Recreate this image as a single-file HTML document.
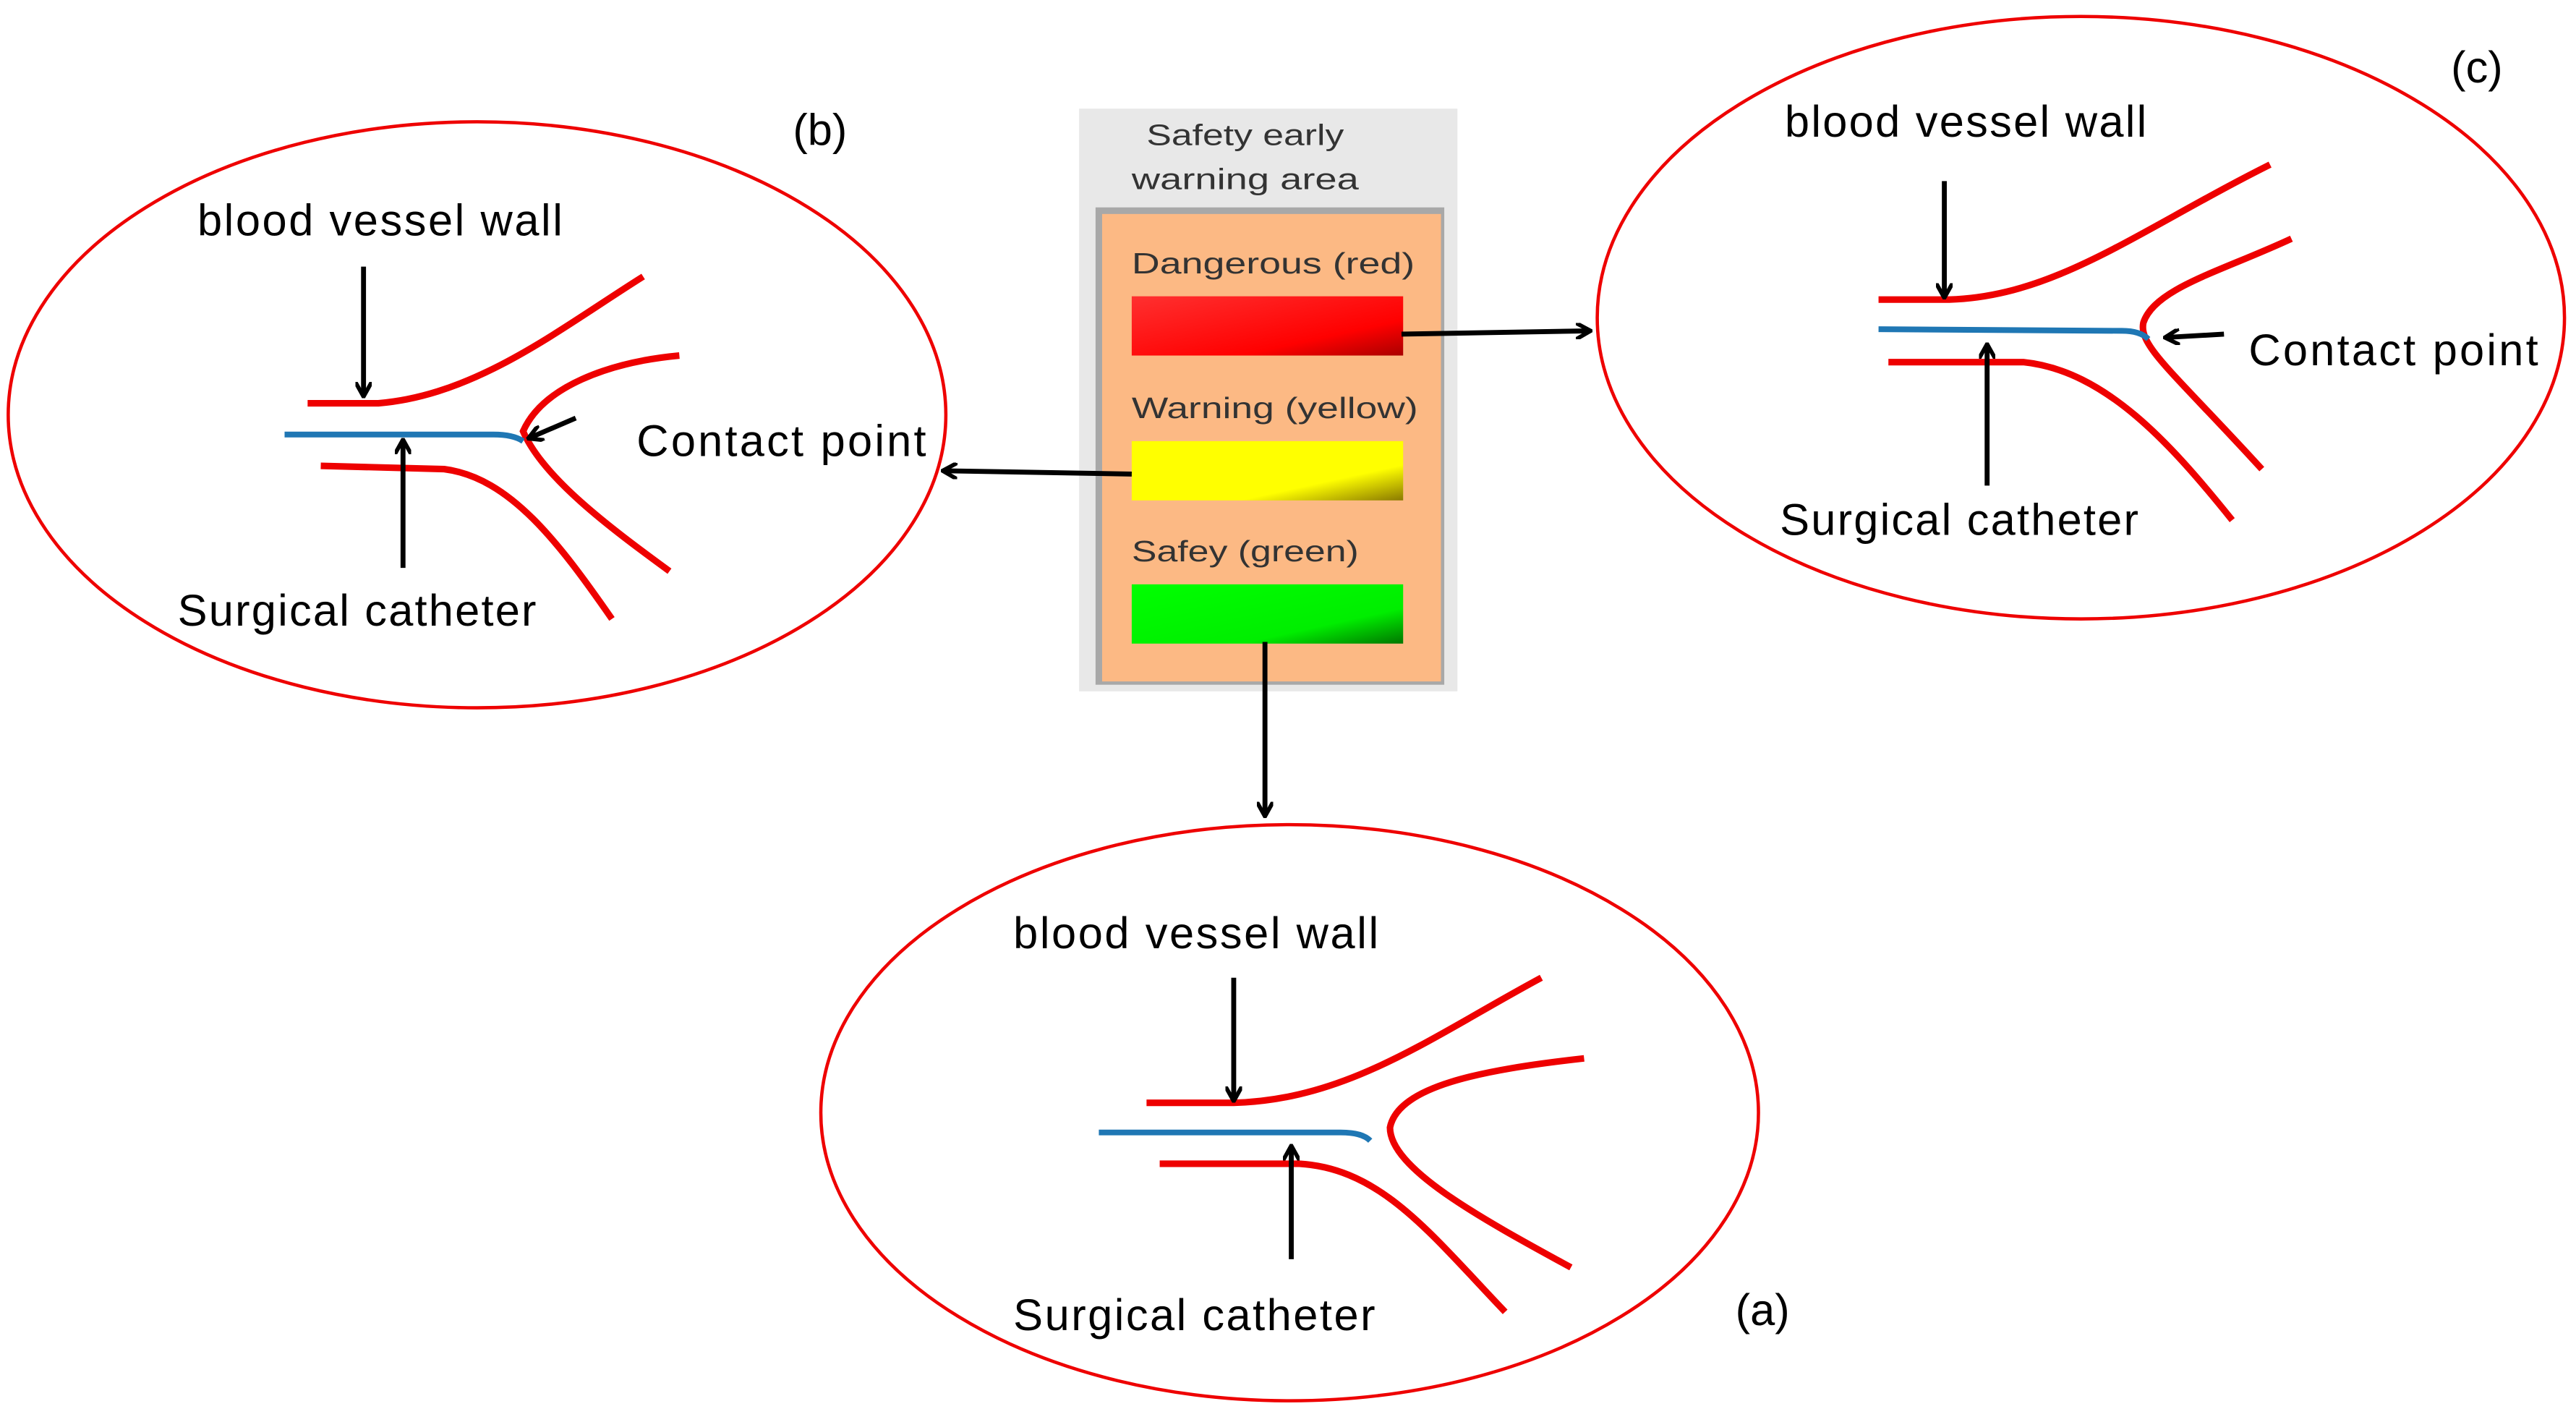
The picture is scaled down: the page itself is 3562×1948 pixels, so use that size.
<!DOCTYPE html>
<html><head><meta charset="utf-8"><style>html,body{margin:0;padding:0;background:#fff}svg{display:block}</style></head>
<body>
<svg width="3562" height="1948" viewBox="0 0 1566 856" preserveAspectRatio="none" xmlns="http://www.w3.org/2000/svg" font-family="Liberation Sans, sans-serif">
<defs>
<marker id="ah" markerWidth="10" markerHeight="10" refX="8" refY="5" orient="auto" markerUnits="userSpaceOnUse"><path d="M0,0 L9,5 L0,10" fill="none" stroke="#000" stroke-width="2.5"/></marker>
<linearGradient id="gr" x1="0" y1="0" x2="1" y2="1"><stop offset="0" stop-color="#ff3030"/><stop offset="0.7" stop-color="#f00"/><stop offset="1" stop-color="#a00"/></linearGradient>
<linearGradient id="gy" x1="0" y1="0" x2="1" y2="1"><stop offset="0" stop-color="#ff0"/><stop offset="0.7" stop-color="#ff0"/><stop offset="1" stop-color="#8a7a00"/></linearGradient>
<linearGradient id="gg" x1="0" y1="0" x2="1" y2="1"><stop offset="0" stop-color="#0f0"/><stop offset="0.7" stop-color="#0e0"/><stop offset="1" stop-color="#070"/></linearGradient>
</defs>
<ellipse cx="290" cy="252" rx="285" ry="178" fill="none" stroke="#e00" stroke-width="2"/>
<ellipse cx="1265" cy="193" rx="294" ry="183" fill="none" stroke="#e00" stroke-width="2"/>
<ellipse cx="784" cy="676" rx="285" ry="175" fill="none" stroke="#e00" stroke-width="2"/>
<rect x="656" y="66" width="230" height="354" fill="#e8e8e8"/>
<rect x="666" y="126" width="212" height="290" fill="#a8a8a8"/>
<rect x="670" y="130" width="206" height="284" fill="#fcb984"/>
<rect x="688" y="180" width="165" height="36" fill="url(#gr)"/>
<rect x="688" y="268" width="165" height="36" fill="url(#gy)"/>
<rect x="688" y="355" width="165" height="36" fill="url(#gg)"/>
<g font-size="18" fill="#333">
<text x="697" y="88" textLength="120" lengthAdjust="spacingAndGlyphs">Safety early</text>
<text x="688" y="115" textLength="138" lengthAdjust="spacingAndGlyphs">warning area</text>
<text x="688" y="166" textLength="172" lengthAdjust="spacingAndGlyphs">Dangerous (red)</text>
<text x="688" y="254" textLength="174" lengthAdjust="spacingAndGlyphs">Warning (yellow)</text>
<text x="688" y="341" textLength="138" lengthAdjust="spacingAndGlyphs">Safey (green)</text>
</g>
<g stroke="#000" stroke-width="3" fill="none" marker-end="url(#ah)">
<line x1="852" y1="203" x2="966" y2="201"/>
<line x1="688" y1="288" x2="574" y2="286"/>
<line x1="769" y1="390" x2="769" y2="495"/>
</g>
<g fill="none" stroke="#e00" stroke-width="4">
<path d="M187,245 L230,245 C290,240 340,200 391,168"/>
<path d="M195,283 L270,285 C310,290 340,330 372,376"/>
<path d="M413,216 C370,220 330,235 318,262 C330,290 370,320 407,347"/>
<path d="M1142,182 L1185,182 C1250,180 1300,140 1380,100"/>
<path d="M1148,220 L1230,220 C1280,225 1320,270 1357,316"/>
<path d="M1393,145 C1350,165 1310,175 1303,196 C1300,210 1320,225 1375,285"/>
<path d="M697,670 L750,670 C820,668 870,630 937,594"/>
<path d="M705,707 L790,707 C840,710 870,750 915,797"/>
<path d="M963,643 C900,650 850,660 845,685 C845,710 900,740 955,770"/>
</g>
<g fill="none" stroke="#1f77b4" stroke-width="3.5">
<path d="M173,264 L300,264 C310,264 315,266 318,268"/>
<path d="M1142,200 L1290,201 C1298,201 1303,203 1306,206"/>
<path d="M668,688 L815,688 C825,688 830,690 833,693"/>
</g>
<g stroke="#000" stroke-width="3" fill="none" marker-end="url(#ah)">
<line x1="221" y1="162" x2="221" y2="240"/>
<line x1="245" y1="345" x2="245" y2="268"/>
<line x1="350" y1="254" x2="322" y2="266"/>
<line x1="1182" y1="110" x2="1182" y2="180"/>
<line x1="1208" y1="295" x2="1208" y2="210"/>
<line x1="1352" y1="203" x2="1317" y2="205"/>
<line x1="750" y1="594" x2="750" y2="668"/>
<line x1="785" y1="765" x2="785" y2="697"/>
</g>
<g font-size="27" fill="#000" lengthAdjust="spacingAndGlyphs">
<text x="120" y="143" textLength="222">blood vessel wall</text>
<text x="1085" y="83" textLength="220">blood vessel wall</text>
<text x="616" y="576" textLength="222">blood vessel wall</text>
<text x="108" y="380" textLength="218">Surgical catheter</text>
<text x="1082" y="325" textLength="218">Surgical catheter</text>
<text x="616" y="808" textLength="220">Surgical catheter</text>
<text x="387" y="277" textLength="176">Contact point</text>
<text x="1367" y="222" textLength="176">Contact point</text>
<text x="482" y="88">(b)</text>
<text x="1490" y="50">(c)</text>
<text x="1055" y="805">(a)</text>
</g>
</svg>
</body></html>
